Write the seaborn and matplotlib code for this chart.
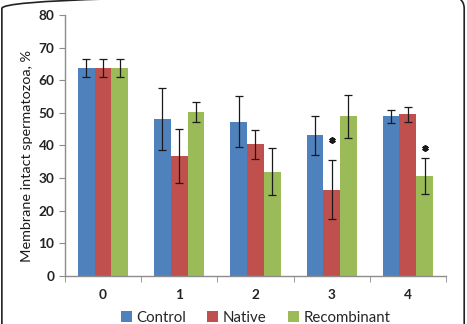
import pandas as pd
import numpy as np
import matplotlib.pyplot as plt
import seaborn as sns
from matplotlib.patches import FancyBboxPatch

# Data
days = ['0', '1', '2', '3', '4']
groups = ['Control', 'Native', 'Recombinant']
control_mean = [63.8, 48.0, 47.3, 43.1, 48.9]
native_mean = [63.8, 36.9, 40.4, 26.5, 49.5]
recomb_mean = [63.8, 50.2, 32.0, 48.9, 30.7]
control_err = [2.8, 9.5, 7.8, 6.0, 1.9]
native_err = [2.8, 8.3, 4.4, 9.0, 2.2]
recomb_err = [2.8, 3.0, 7.3, 6.7, 5.5]
# significance marks: (day, group, y of asterisk)
stars = [('3', 'Native', 41.7), ('4', 'Recombinant', 39.3)]

colors = ['#4F81BD', '#C0504D', '#9BBB59']

df = pd.DataFrame({
    'day': days * 3,
    'group': [g for g in groups for _ in days],
    'value': control_mean + native_mean + recomb_mean,
    'err': control_err + native_err + recomb_err,
})

sns.set_style('white')
plt.rcParams['font.family'] = ['Lato', 'DejaVu Sans']

fig = plt.figure(figsize=(4.67, 3.24), dpi=100)
ax = fig.add_axes([0.139, 0.148, 0.816, 0.806])

sns.barplot(data=df, x='day', y='value', hue='group', order=days,
            hue_order=groups, palette=colors, width=0.66, errorbar=None,
            saturation=1, linewidth=0, ax=ax)

# error bars and asterisks at the bar centres
for cont, g in zip(ax.containers, groups):
    sub = df[df['group'] == g].set_index('day').loc[days]
    xs = [b.get_x() + b.get_width() / 2 for b in cont]
    ax.errorbar(xs, sub['value'], yerr=sub['err'], fmt='none', ecolor='#1a1a1a',
                elinewidth=0.9, capsize=3, capthick=0.9, zorder=5)
    for d, sg, sy in stars:
        if sg == g:
            ax.plot(xs[days.index(d)], sy, marker=(6, 2, 0), markersize=4.5,
                    markeredgewidth=1.4, color='#1a1a1a', zorder=6)

ax.set_ylim(0, 80)
ax.set_xlim(-0.5, 4.5)
ax.set_yticks(range(0, 81, 10))
ax.set_xlabel('')
ax.set_ylabel('Membrane intact spermatozoa, %', fontsize=10.4, color='#1a1a1a')
ax.yaxis.set_label_coords(-0.085, 0.46)

for s in ['top', 'right']:
    ax.spines[s].set_visible(False)
for s in ['left', 'bottom']:
    ax.spines[s].set_color('#8c8c8c')
    ax.spines[s].set_linewidth(1.0)

ax.tick_params(axis='y', left=True, length=4, color='#8c8c8c', labelsize=9.8, labelcolor='#222222')
ax.tick_params(axis='x', bottom=False, labelsize=9.8, labelcolor='#222222', pad=6)
for lab in ax.get_xticklabels() + ax.get_yticklabels():
    lab.set_fontweight('bold')

# category boundary ticks on the x axis
ax.set_xticks(np.arange(-0.5, 5, 1), minor=True)
ax.tick_params(axis='x', which='minor', bottom=True, length=4, color='#8c8c8c')

ax.legend(loc='upper center', bbox_to_anchor=(0.5, -0.11), ncol=3, frameon=False,
          fontsize=10.8, handlelength=0.75, handleheight=0.75, handletextpad=0.3,
          columnspacing=1.4, borderaxespad=0)

# rounded frame around the figure
frame = FancyBboxPatch((0.004, -0.05), 0.99, 1.064,
                       boxstyle='round,pad=0,rounding_size=0.04',
                       transform=fig.transFigure, fill=False, edgecolor='#222222',
                       linewidth=1.2, clip_on=False)
fig.patches.append(frame)

fig.savefig('out.png', dpi=100)
